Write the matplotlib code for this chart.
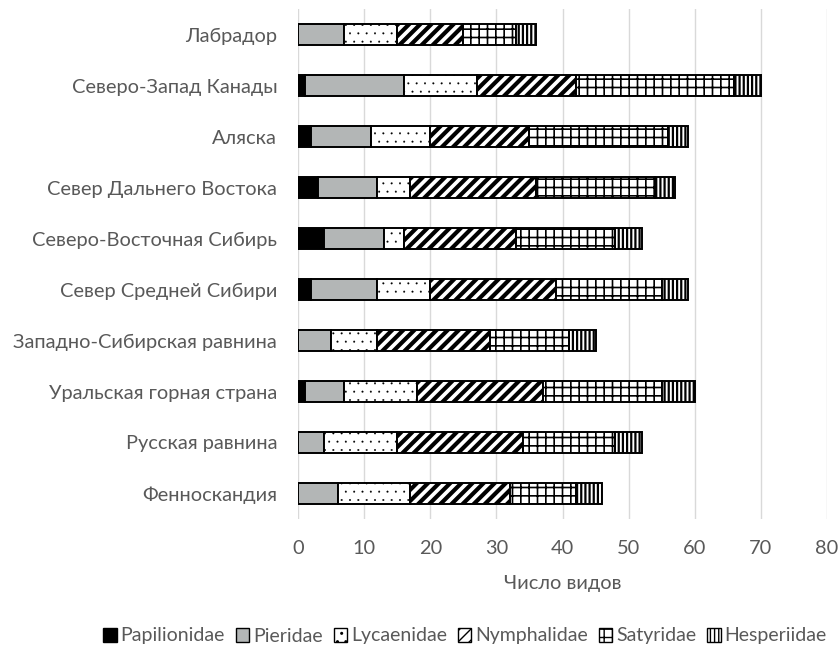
import matplotlib
matplotlib.use("Agg")
import matplotlib.pyplot as plt
import numpy as np
from matplotlib.patches import Patch

regions = ["Фенноскандия", "Русская равнина", "Уральская горная страна",
           "Западно-Сибирская равнина", "Север Средней Сибири",
           "Северо-Восточная Сибирь", "Север Дальнего Востока", "Аляска",
           "Северо-Запад Канады", "Лабрадор"]
families = ["Papilionidae", "Pieridae", "Lycaenidae", "Nymphalidae", "Satyridae", "Hesperiidae"]

papilionidae = [0, 0, 1, 0, 2, 4, 3, 2, 1, 0]
pieridae     = [6, 4, 6, 5, 10, 9, 9, 9, 15, 7]
lycaenidae   = [11, 11, 11, 7, 8, 3, 5, 9, 11, 8]
nymphalidae  = [15, 19, 19, 17, 19, 17, 19, 15, 15, 10]
satyridae    = [10, 14, 18, 12, 16, 15, 18, 21, 24, 8]
hesperiidae  = [4, 4, 5, 4, 4, 4, 3, 3, 4, 3]

xticks = [0, 10, 20, 30, 40, 50, 60, 70, 80]

series = [papilionidae, pieridae, lycaenidae, nymphalidae, satyridae, hesperiidae]
styles = [
    dict(facecolor="black", hatch=None, hlw=1.0),
    dict(facecolor="#b3b6b6", hatch=None, hlw=1.0),
    dict(facecolor="white", hatch="..", hlw=0.2),
    dict(facecolor="white", hatch="///", hlw=3.0),
    dict(facecolor="white", hatch="++", hlw=1.2),
    dict(facecolor="white", hatch="||||", hlw=1.6),
]

text_color = "#595959"
plt.rcParams["font.family"] = ["Lato", "DejaVu Sans"]
fs = 14.4

fig = plt.figure(figsize=(8.38, 6.46), dpi=100)
ax = fig.add_axes([298/838, 1-519/646, (827-298)/838, (519-9)/646])

y = np.arange(len(regions))
left = np.zeros(len(regions))
handles = []
for vals, st, name in zip(series, styles, families):
    with plt.rc_context({"hatch.linewidth": st["hlw"], "hatch.color": "black"}):
        ax.barh(y, vals, left=left, height=0.41, color=st["facecolor"],
                edgecolor="black", linewidth=1.4, hatch=st["hatch"], zorder=3)
    with plt.rc_context({"hatch.linewidth": min(st["hlw"], 1.5), "hatch.color": "black"}):
        handles.append(Patch(facecolor=st["facecolor"], edgecolor="black",
                             linewidth=1.0, hatch=st["hatch"], label=name))
    left = left + np.array(vals)

ax.set_xlim(0, 80)
ax.set_ylim(-0.5, len(regions) - 0.5)
ax.set_xticks(xticks)
ax.set_xticklabels([str(t) for t in xticks])
ax.set_yticks(y)
ax.set_yticklabels(regions)
ax.grid(axis="x", color="#d9d9d9", linewidth=1.0, zorder=0)
for s in ax.spines.values():
    s.set_visible(False)
ax.tick_params(axis="both", length=0, labelsize=fs, labelcolor=text_color)
ax.tick_params(axis="x", pad=15)
ax.tick_params(axis="y", pad=15)
ax.set_xlabel("Число видов", fontsize=fs, color=text_color, labelpad=13)

leg = fig.legend(handles=handles, loc="center", ncol=6,
                 bbox_to_anchor=(465/838, 1-636/646), frameon=False,
                 fontsize=14, handlelength=0.7, handleheight=0.7,
                 handletextpad=0.2, columnspacing=0.55, labelcolor=text_color)

fig.savefig("out.png", dpi=100)
